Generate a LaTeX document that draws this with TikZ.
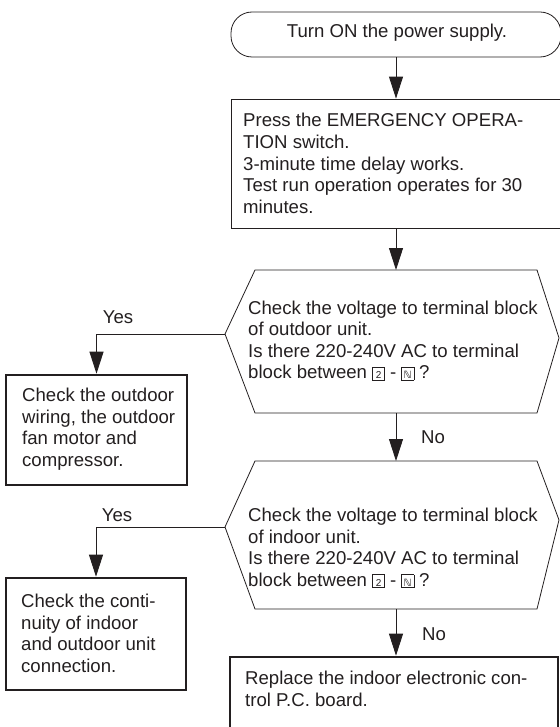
\documentclass[tikz,border=0pt]{standalone}
\usepackage{fontspec}
\setmainfont{Liberation Sans}
\newfontfamily\symfont{DejaVu Sans}
\usetikzlibrary{arrows.meta}
\definecolor{ink}{HTML}{231F20}
% small framed terminal marks
\newcommand\termmark[1]{{\setlength\fboxsep{0.8bp}\setlength\fboxrule{0.5bp}\raisebox{0.2bp}{\fbox{\makebox[10bp]{\rule[-0.5bp]{0pt}{11bp}\fontsize{10bp}{10bp}\selectfont #1}}}}}
\tikzset{
  thinline/.style={draw=ink, line width=0.8bp},
  boldbox/.style={draw=ink, line width=2.6bp},
  flow/.style={draw=ink, line width=0.9bp, -{Triangle[length=22bp,width=14bp]}},
  txt/.style={text=ink, align=left, inner sep=0pt, anchor=west,
    font=\fontsize{18.6bp}{21.6bp}\selectfont},
  lbl/.style={text=ink, inner sep=0pt, font=\fontsize{18.6bp}{21.6bp}\selectfont},
}
\begin{document}
\begin{tikzpicture}[x=1bp,y=-1bp]
\useasboundingbox (0,0) rectangle (560,727);
\clip (0,0) rectangle (560,727);

% start terminal
\node[thinline, rounded corners=21bp, minimum width=330bp, minimum height=45bp, inner sep=0pt] (start) at (396,34.5) {};
\node[lbl] (starttxt) at (397,33) {Turn ON the power supply.};

% process box
\node[thinline, minimum width=330bp, minimum height=129bp, inner sep=0pt] (press) at (396,163.5) {};
\node[txt] (presstxt) at (243,163.5) {Press the EMERGENCY OPERA-\\TION switch.\\3-minute time delay works.\\Test run operation operates for 30\\minutes.};

% first decision
\coordinate (h1l) at (225,334);
\coordinate (h1tl) at (255,270);
\coordinate (h1top) at (396,270);
\coordinate (h1tr) at (537,270);
\coordinate (h1r) at (559,338);
\coordinate (h1br) at (537,413);
\coordinate (h1bot) at (396,413);
\coordinate (h1bl) at (255,413);
\draw[thinline] (h1l) -- (h1tl) -- (h1tr) -- (h1r) -- (h1br) -- (h1bl) -- cycle;
\node[txt] (h1txt) at (248,340.5) {Check the voltage to terminal block\\of outdoor unit.\\Is there 220-240V AC to terminal\\block between \termmark{2} - \termmark{\symfont ℕ} ?};

% second decision
\coordinate (h2l) at (225,527);
\coordinate (h2tl) at (255,461);
\coordinate (h2top) at (396,461);
\coordinate (h2tr) at (537,461);
\coordinate (h2r) at (559,520);
\coordinate (h2br) at (537,609);
\coordinate (h2bot) at (396,609);
\coordinate (h2bl) at (255,609);
\draw[thinline] (h2l) -- (h2tl) -- (h2tr) -- (h2r) -- (h2br) -- (h2bl) -- cycle;
\node[txt] (h2txt) at (248,548) {Check the voltage to terminal block\\of indoor unit.\\Is there 220-240V AC to terminal\\block between \termmark{2} - \termmark{\symfont ℕ} ?};

% outcome boxes
\node[boldbox, minimum width=181bp, minimum height=110bp, inner sep=0pt] (outbox) at (96.5,430) {};
\node[txt] (outtxt) at (22,429) {Check the outdoor\\wiring, the outdoor\\fan motor and\\compressor.};

\node[boldbox, minimum width=180bp, minimum height=112bp, inner sep=0pt] (inbox) at (96,634) {};
\node[txt] (intxt) at (21,633.5) {Check the conti-\\nuity of indoor\\and outdoor unit\\connection.};

\node[boldbox, minimum width=328bp, minimum height=103bp, inner sep=0pt] (final) at (394,708.5) {};
\node[txt] (finaltxt) at (245,689) {Replace the indoor electronic con-\\trol P.C. board.};

% connectors
\draw[flow] (start.south) -- (press.north);
\draw[flow] (press.south) -- (h1top);
\draw[flow] (h1bot) -- (h2top);
\draw[flow] (h2bot) -- (h2bot |- final.north);
\draw[flow] (h1l) -| (outbox.north);
\draw[flow] (h2l) -| (inbox.north);

% branch labels
\node[lbl] (yes1) at (118,317) {Yes};
\node[lbl] (yes2) at (117,515) {Yes};
\node[lbl] (no1) at (433,437) {No};
\node[lbl] (no2) at (434,634) {No};
\end{tikzpicture}
\end{document}
